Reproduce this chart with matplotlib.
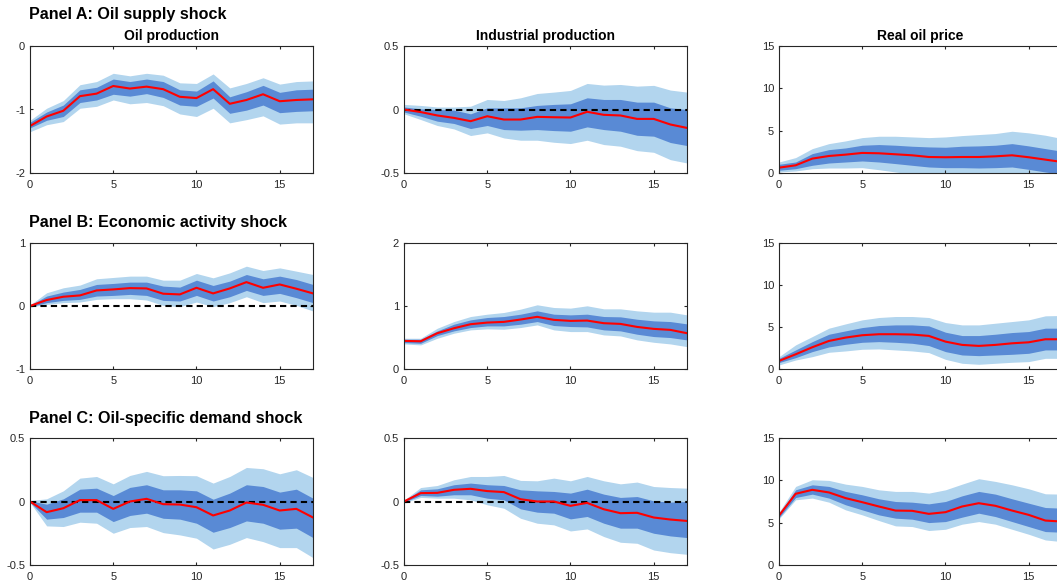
import matplotlib
matplotlib.use("Agg")
import matplotlib.pyplot as plt
import numpy as np

plt.rcParams['font.family'] = ['Liberation Sans', 'DejaVu Sans']

horizon = list(range(18))

# ---- Panel A: oil supply shock ----
a_prod_med = [-1.26, -1.11, -1.02, -0.79, -0.75, -0.63, -0.67, -0.64, -0.68, -0.80, -0.82, -0.68, -0.91, -0.85, -0.76, -0.87, -0.85, -0.84]
a_prod_in_hi = [-1.20, -1.04, -0.93, -0.69, -0.65, -0.52, -0.56, -0.52, -0.56, -0.69, -0.71, -0.55, -0.80, -0.72, -0.62, -0.73, -0.69, -0.68]
a_prod_in_lo = [-1.29, -1.17, -1.11, -0.89, -0.85, -0.76, -0.79, -0.75, -0.81, -0.93, -0.95, -0.82, -1.06, -1.01, -0.93, -1.05, -1.03, -1.02]
a_prod_out_hi = [-1.17, -0.98, -0.86, -0.61, -0.56, -0.43, -0.47, -0.43, -0.46, -0.58, -0.59, -0.44, -0.66, -0.59, -0.50, -0.60, -0.56, -0.55]
a_prod_out_lo = [-1.35, -1.24, -1.19, -0.98, -0.95, -0.85, -0.91, -0.89, -0.94, -1.07, -1.11, -0.98, -1.21, -1.16, -1.10, -1.23, -1.21, -1.21]

a_ip_med = [0.0, -0.020, -0.047, -0.066, -0.092, -0.053, -0.079, -0.079, -0.058, -0.061, -0.063, -0.018, -0.042, -0.047, -0.074, -0.074, -0.118, -0.145]
a_ip_in_hi = [0.020, 0.005, 0.0, -0.005, -0.034, 0.013, 0.013, 0.013, 0.032, 0.040, 0.045, 0.092, 0.079, 0.079, 0.058, 0.058, 0.013, 0.0]
a_ip_in_lo = [-0.020, -0.053, -0.092, -0.110, -0.150, -0.126, -0.158, -0.163, -0.158, -0.166, -0.171, -0.137, -0.158, -0.171, -0.203, -0.210, -0.260, -0.284]
a_ip_out_hi = [0.040, 0.032, 0.020, 0.020, 0.026, 0.079, 0.071, 0.092, 0.126, 0.137, 0.150, 0.205, 0.192, 0.197, 0.184, 0.190, 0.153, 0.137]
a_ip_out_lo = [-0.034, -0.079, -0.126, -0.153, -0.205, -0.184, -0.224, -0.242, -0.242, -0.258, -0.268, -0.242, -0.276, -0.289, -0.324, -0.337, -0.395, -0.421]

a_rop_med = [0.63, 0.91, 1.70, 2.01, 2.17, 2.37, 2.33, 2.21, 2.09, 1.89, 1.86, 1.89, 1.89, 1.97, 2.09, 1.86, 1.58, 1.30]
a_rop_in_hi = [1.03, 1.30, 2.29, 2.76, 2.96, 3.28, 3.36, 3.28, 3.16, 3.08, 3.04, 3.16, 3.20, 3.28, 3.47, 3.20, 2.88, 2.57]
a_rop_in_lo = [0.32, 0.51, 0.91, 1.18, 1.30, 1.42, 1.30, 1.11, 0.91, 0.71, 0.63, 0.63, 0.59, 0.63, 0.71, 0.43, 0.12, -0.16]
a_rop_out_hi = [1.30, 1.82, 2.88, 3.47, 3.79, 4.18, 4.34, 4.34, 4.26, 4.18, 4.26, 4.42, 4.54, 4.66, 4.93, 4.74, 4.46, 4.07]
a_rop_out_lo = [0.12, 0.24, 0.51, 0.59, 0.59, 0.63, 0.39, 0.12, -0.16, -0.39, -0.55, -0.55, -0.55, -0.47, -0.39, -0.67, -0.95, -1.26]

# ---- Panel B: economic activity shock ----
b_prod_med = [0.0, 0.095, 0.147, 0.168, 0.247, 0.263, 0.284, 0.279, 0.195, 0.184, 0.289, 0.200, 0.279, 0.379, 0.289, 0.342, 0.274, 0.200]
b_prod_in_hi = [0.010, 0.158, 0.221, 0.263, 0.342, 0.358, 0.379, 0.379, 0.316, 0.300, 0.410, 0.326, 0.395, 0.500, 0.432, 0.474, 0.420, 0.342]
b_prod_in_lo = [-0.010, 0.053, 0.089, 0.105, 0.158, 0.168, 0.184, 0.168, 0.089, 0.079, 0.168, 0.079, 0.147, 0.247, 0.168, 0.200, 0.132, 0.053]
b_prod_out_hi = [0.016, 0.210, 0.289, 0.332, 0.432, 0.453, 0.474, 0.474, 0.410, 0.410, 0.516, 0.447, 0.526, 0.632, 0.563, 0.605, 0.553, 0.500]
b_prod_out_lo = [-0.016, 0.026, 0.053, 0.063, 0.105, 0.116, 0.116, 0.095, 0.010, -0.010, 0.063, -0.010, 0.053, 0.147, 0.053, 0.079, 0.010, -0.079]

b_ip_med = [0.446, 0.440, 0.568, 0.647, 0.711, 0.737, 0.748, 0.785, 0.828, 0.780, 0.764, 0.769, 0.727, 0.716, 0.668, 0.637, 0.621, 0.568]
b_ip_in_hi = [0.472, 0.472, 0.605, 0.711, 0.780, 0.817, 0.833, 0.870, 0.923, 0.870, 0.859, 0.870, 0.833, 0.828, 0.790, 0.764, 0.753, 0.716]
b_ip_in_lo = [0.419, 0.408, 0.531, 0.605, 0.658, 0.684, 0.684, 0.711, 0.753, 0.690, 0.674, 0.668, 0.621, 0.605, 0.552, 0.515, 0.499, 0.462]
b_ip_out_hi = [0.488, 0.488, 0.647, 0.753, 0.833, 0.870, 0.897, 0.950, 1.019, 0.976, 0.966, 1.003, 0.955, 0.955, 0.923, 0.902, 0.902, 0.859]
b_ip_out_lo = [0.398, 0.382, 0.488, 0.568, 0.621, 0.637, 0.631, 0.658, 0.700, 0.621, 0.594, 0.594, 0.541, 0.525, 0.462, 0.424, 0.398, 0.355]

b_rop_med = [0.96, 1.75, 2.59, 3.34, 3.74, 4.02, 4.14, 4.14, 4.10, 3.94, 3.26, 2.87, 2.75, 2.87, 3.06, 3.18, 3.54, 3.54]
b_rop_in_hi = [1.27, 2.27, 3.26, 4.14, 4.54, 4.93, 5.17, 5.25, 5.25, 5.13, 4.38, 3.98, 3.98, 4.14, 4.34, 4.46, 4.86, 4.86]
b_rop_in_lo = [0.76, 1.35, 2.07, 2.63, 2.94, 3.18, 3.26, 3.18, 3.06, 2.79, 2.07, 1.67, 1.59, 1.67, 1.75, 1.87, 2.27, 2.27]
b_rop_out_hi = [1.47, 2.87, 3.86, 4.86, 5.37, 5.85, 6.13, 6.25, 6.25, 6.13, 5.53, 5.25, 5.25, 5.45, 5.65, 5.85, 6.33, 6.37]
b_rop_out_lo = [0.48, 1.07, 1.47, 1.99, 2.15, 2.35, 2.39, 2.27, 2.15, 1.95, 1.15, 0.68, 0.56, 0.68, 0.80, 0.88, 1.27, 1.27]

# ---- Panel C: oil-specific demand shock ----
c_prod_med = [0.0, -0.084, -0.053, 0.011, 0.011, -0.058, 0.0, 0.021, -0.021, -0.024, -0.045, -0.110, -0.071, -0.008, -0.026, -0.071, -0.058, -0.126]
c_prod_in_hi = [0.005, -0.021, 0.021, 0.097, 0.105, 0.047, 0.111, 0.132, 0.092, 0.092, 0.084, 0.018, 0.066, 0.132, 0.118, 0.074, 0.097, 0.026]
c_prod_in_lo = [-0.005, -0.139, -0.126, -0.084, -0.084, -0.158, -0.110, -0.092, -0.132, -0.139, -0.171, -0.242, -0.205, -0.153, -0.171, -0.218, -0.210, -0.284]
c_prod_out_hi = [0.008, 0.021, 0.084, 0.184, 0.197, 0.139, 0.205, 0.237, 0.203, 0.205, 0.203, 0.145, 0.197, 0.268, 0.258, 0.218, 0.250, 0.189]
c_prod_out_lo = [-0.008, -0.192, -0.197, -0.163, -0.171, -0.250, -0.205, -0.197, -0.245, -0.263, -0.289, -0.374, -0.337, -0.284, -0.316, -0.363, -0.363, -0.442]

c_ip_med = [0.0, 0.066, 0.068, 0.092, 0.100, 0.082, 0.074, 0.018, 0.0, 0.0, -0.034, -0.011, -0.061, -0.092, -0.089, -0.126, -0.142, -0.153]
c_ip_in_hi = [0.005, 0.092, 0.100, 0.132, 0.145, 0.132, 0.126, 0.092, 0.084, 0.079, 0.066, 0.097, 0.058, 0.032, 0.039, 0.005, -0.005, 0.0]
c_ip_in_lo = [-0.005, 0.047, 0.042, 0.053, 0.053, 0.026, 0.013, -0.058, -0.084, -0.092, -0.137, -0.118, -0.171, -0.210, -0.210, -0.250, -0.271, -0.284]
c_ip_out_hi = [0.011, 0.110, 0.126, 0.171, 0.197, 0.197, 0.205, 0.166, 0.163, 0.184, 0.163, 0.197, 0.163, 0.139, 0.153, 0.118, 0.110, 0.105]
c_ip_out_lo = [-0.011, 0.032, 0.026, 0.026, 0.013, -0.026, -0.053, -0.132, -0.171, -0.184, -0.232, -0.216, -0.276, -0.321, -0.329, -0.382, -0.403, -0.416]

c_rop_med = [5.84, 8.41, 8.88, 8.57, 7.90, 7.42, 6.91, 6.43, 6.40, 6.04, 6.24, 6.91, 7.30, 6.99, 6.43, 5.92, 5.25, 5.13]
c_rop_in_hi = [6.00, 8.88, 9.47, 9.28, 8.69, 8.29, 7.82, 7.50, 7.42, 7.22, 7.50, 8.17, 8.69, 8.37, 7.82, 7.30, 6.79, 6.71]
c_rop_in_lo = [5.61, 7.97, 8.37, 7.90, 7.11, 6.51, 5.92, 5.53, 5.41, 5.01, 5.13, 5.65, 6.12, 5.72, 5.13, 4.54, 3.95, 3.87]
c_rop_out_hi = [6.24, 9.28, 10.07, 9.99, 9.55, 9.28, 8.88, 8.69, 8.69, 8.49, 8.88, 9.55, 10.19, 9.87, 9.47, 9.00, 8.41, 8.37]
c_rop_out_lo = [5.45, 7.70, 7.90, 7.42, 6.51, 5.92, 5.25, 4.62, 4.54, 4.07, 4.22, 4.82, 5.13, 4.82, 4.22, 3.63, 2.96, 2.76]

panel_titles = ["Panel A: Oil supply shock",
                "Panel B: Economic activity shock",
                "Panel C: Oil-specific demand shock"]
variable_titles = ["Oil production", "Industrial production", "Real oil price"]

responses = [
    [(a_prod_med, a_prod_in_lo, a_prod_in_hi, a_prod_out_lo, a_prod_out_hi),
     (a_ip_med, a_ip_in_lo, a_ip_in_hi, a_ip_out_lo, a_ip_out_hi),
     (a_rop_med, a_rop_in_lo, a_rop_in_hi, a_rop_out_lo, a_rop_out_hi)],
    [(b_prod_med, b_prod_in_lo, b_prod_in_hi, b_prod_out_lo, b_prod_out_hi),
     (b_ip_med, b_ip_in_lo, b_ip_in_hi, b_ip_out_lo, b_ip_out_hi),
     (b_rop_med, b_rop_in_lo, b_rop_in_hi, b_rop_out_lo, b_rop_out_hi)],
    [(c_prod_med, c_prod_in_lo, c_prod_in_hi, c_prod_out_lo, c_prod_out_hi),
     (c_ip_med, c_ip_in_lo, c_ip_in_hi, c_ip_out_lo, c_ip_out_hi),
     (c_rop_med, c_rop_in_lo, c_rop_in_hi, c_rop_out_lo, c_rop_out_hi)],
]

y_limits = [[(-2, 0), (-0.5, 0.5), (0, 15)],
            [(-1, 1), (0, 2), (0, 15)],
            [(-0.5, 0.5), (-0.5, 0.5), (0, 15)]]
y_ticks = [[[-2, -1, 0], [-0.5, 0, 0.5], [0, 5, 10, 15]],
           [[-1, 0, 1], [0, 1, 2], [0, 5, 10, 15]],
           [[-0.5, 0, 0.5], [-0.5, 0, 0.5], [0, 5, 10, 15]]]
y_ticklabels = [[["-2", "-1", "0"], ["-0.5", "0", "0.5"], ["0", "5", "10", "15"]],
                [["-1", "0", "1"], ["0", "1", "2"], ["0", "5", "10", "15"]],
                [["-0.5", "0", "0.5"], ["-0.5", "0", "0.5"], ["0", "5", "10", "15"]]]
x_ticks = [0, 5, 10, 15]

LIGHT = "#b2d5ee"
DARK = "#598ad5"
AXC = "#262626"

W, H = 1057, 588
fig = plt.figure(figsize=(W / 100, H / 100), dpi=100)

col_left = [30, 404, 779]
col_width = 283
row_top = [46, 243, 438]
row_bottom = [173, 369, 565]
panel_baseline = [18.5, 227.5, 423.5]

for r in range(3):
    fig.text(29 / W, 1 - panel_baseline[r] / H, panel_titles[r],
             fontsize=11.6, fontweight="bold", ha="left", va="baseline", color="black")
    for c in range(3):
        left = col_left[c] / W
        bottom = 1 - row_bottom[r] / H
        height = (row_bottom[r] - row_top[r]) / H
        ax = fig.add_axes([left, bottom, col_width / W, height])
        med, in_lo, in_hi, out_lo, out_hi = responses[r][c]
        ax.fill_between(horizon, out_lo, out_hi, color=LIGHT, linewidth=0, zorder=1)
        ax.fill_between(horizon, in_lo, in_hi, color=DARK, linewidth=0, zorder=2)
        lo, hi = y_limits[r][c]
        if lo < 0 < hi:
            ax.axhline(0, color="black", linestyle=(0, (3, 2)), linewidth=1.5, zorder=3)
        ax.plot(horizon, med, color="red", linewidth=1.5, zorder=4)
        ax.set_xlim(0, 17)
        ax.set_ylim(lo, hi)
        ax.set_xticks(x_ticks)
        ax.set_xticklabels([str(t) for t in x_ticks])
        ax.set_yticks(y_ticks[r][c])
        ax.set_yticklabels(y_ticklabels[r][c])
        ax.tick_params(direction="in", top=True, right=True, length=2,
                       width=0.8, labelsize=8, colors=AXC)
        ax.tick_params(axis="x", pad=5)
        ax.tick_params(axis="y", pad=3.5)
        for s in ax.spines.values():
            s.set_color(AXC)
            s.set_linewidth(0.8)
            s.set_zorder(5)
        if r == 0:
            ax.set_title(variable_titles[c], fontsize=10, fontweight="bold", pad=4.5)

fig.savefig("out.png", dpi=100)
